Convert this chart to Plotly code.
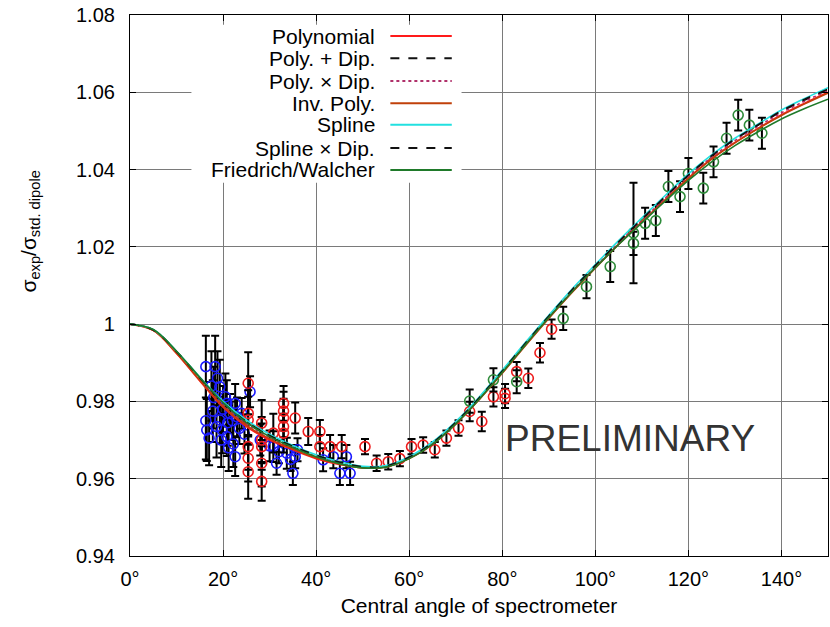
import plotly.graph_objects as go

# ---------------- data ----------------
angles = [0, 5, 10, 15, 20, 25, 30, 35, 40, 45, 50, 55, 60, 65, 70, 75, 80, 85, 90,
          95, 100, 105, 110, 115, 120, 125, 130, 135, 140, 145, 150]

fit_polynomial = [1.0000, 0.9984, 0.9924, 0.9853, 0.9785, 0.9735, 0.9700, 0.9675, 0.9652, 0.9637,
                  0.9628, 0.9631, 0.9653, 0.9690, 0.9742, 0.9805, 0.9874, 0.9946, 1.0016, 1.0083,
                  1.0146, 1.0207, 1.0265, 1.0322, 1.0378, 1.0428, 1.0470, 1.0507, 1.0542, 1.0572, 1.0600]
fit_poly_plus_dip = [1.0000, 0.9985, 0.9928, 0.9860, 0.9795, 0.9745, 0.9710, 0.9683, 0.9660, 0.9642,
                     0.9630, 0.9632, 0.9655, 0.9692, 0.9745, 0.9808, 0.9878, 0.9950, 1.0020, 1.0088,
                     1.0150, 1.0212, 1.0270, 1.0328, 1.0385, 1.0435, 1.0478, 1.0515, 1.0550, 1.0580, 1.0606]
fit_poly_times_dip = [1.0000, 0.9985, 0.9927, 0.9858, 0.9792, 0.9742, 0.9707, 0.9680, 0.9658, 0.9641,
                      0.9630, 0.9632, 0.9654, 0.9691, 0.9744, 0.9807, 0.9877, 0.9949, 1.0019, 1.0086,
                      1.0149, 1.0210, 1.0268, 1.0326, 1.0382, 1.0432, 1.0475, 1.0512, 1.0547, 1.0577, 1.0604]
fit_inv_poly = [1.0000, 0.9984, 0.9925, 0.9855, 0.9788, 0.9738, 0.9703, 0.9677, 0.9654, 0.9638,
                0.9628, 0.9630, 0.9652, 0.9689, 0.9741, 0.9804, 0.9873, 0.9945, 1.0015, 1.0082,
                1.0145, 1.0206, 1.0264, 1.0321, 1.0377, 1.0427, 1.0469, 1.0506, 1.0540, 1.0570, 1.0598]
fit_spline = [1.0000, 0.9986, 0.9930, 0.9863, 0.9800, 0.9752, 0.9715, 0.9686, 0.9662, 0.9644,
              0.9632, 0.9634, 0.9657, 0.9695, 0.9748, 0.9811, 0.9881, 0.9953, 1.0023, 1.0091,
              1.0154, 1.0216, 1.0275, 1.0333, 1.0389, 1.0438, 1.0481, 1.0518, 1.0554, 1.0584, 1.0612]
fit_spline_times_dip = [1.0000, 0.9985, 0.9929, 0.9861, 0.9797, 0.9748, 0.9712, 0.9684, 0.9661, 0.9643,
                        0.9631, 0.9633, 0.9656, 0.9693, 0.9746, 0.9809, 0.9879, 0.9951, 1.0021, 1.0089,
                        1.0152, 1.0213, 1.0272, 1.0330, 1.0386, 1.0436, 1.0479, 1.0516, 1.0552, 1.0582, 1.0608]
fit_friedrich_walcher = [1.0000, 0.9986, 0.9930, 0.9862, 0.9797, 0.9746, 0.9709, 0.9681, 0.9657, 0.9639,
                         0.9628, 0.9630, 0.9652, 0.9689, 0.9742, 0.9805, 0.9875, 0.9947, 1.0017, 1.0084,
                         1.0146, 1.0206, 1.0262, 1.0318, 1.0372, 1.0420, 1.0462, 1.0498, 1.0531, 1.0558, 1.0582]

blue_x = [16.3, 16.3, 16.5, 17.0, 17.5, 18.0, 18.3, 18.8, 19.3, 19.3, 19.8, 20.0, 20.5, 20.8, 20.8,
          21.2, 21.5, 22.0, 22.6, 22.6, 23.5, 24.0, 25.8, 28.0, 30.0, 30.8, 32.0, 33.7, 35.0, 35.5,
          36.0, 41.5, 43.7, 45.1, 46.5, 47.3, 17.8, 18.6, 19.6, 21.0, 22.2, 23.0, 24.6, 31.5, 34.5]
blue_y = [0.9890, 0.9750, 0.9726, 0.9705, 0.9840, 0.9810, 0.9890, 0.9860, 0.9838, 0.9752, 0.9726,
          0.9780, 0.9812, 0.9795, 0.9709, 0.9680, 0.9769, 0.9750, 0.9795, 0.9657, 0.9730, 0.9769,
          0.9825, 0.9700, 0.9685, 0.9683, 0.9670, 0.9666, 0.9614, 0.9657, 0.9675, 0.9649, 0.9657,
          0.9614, 0.9657, 0.9614, 0.9775, 0.9735, 0.9700, 0.9745, 0.9690, 0.9760, 0.9715, 0.9640,
          0.9650]
blue_err = [0.008, 0.010, 0.008, 0.007, 0.009, 0.008, 0.008, 0.007, 0.007, 0.006, 0.006, 0.006,
            0.006, 0.006, 0.005, 0.006, 0.005, 0.005, 0.005, 0.005, 0.004, 0.004, 0.004, 0.004,
            0.004, 0.004, 0.003, 0.004, 0.003, 0.003, 0.003, 0.003, 0.003, 0.003, 0.003, 0.003,
            0.008, 0.008, 0.007, 0.006, 0.006, 0.005, 0.005, 0.003, 0.003]

red_x = [25.4, 25.4, 25.4, 25.4, 25.4, 25.4, 28.3, 28.3, 28.3, 28.3, 28.3, 30.8, 33.0, 33.0, 33.0,
         33.0, 33.0, 35.5, 38.3, 40.8, 40.8, 43.0, 45.5, 50.5, 53.0, 55.5, 58.0, 60.5, 63.0, 65.5,
         68.0, 70.6, 73.0, 75.6, 78.1, 80.6, 80.6, 83.1, 85.6, 88.1, 90.6]
red_y = [0.9847, 0.9769, 0.9752, 0.9683, 0.9653, 0.9618, 0.9744, 0.9700, 0.9683, 0.9640, 0.9593,
         0.9718, 0.9795, 0.9775, 0.9757, 0.9735, 0.9718, 0.9757, 0.9722, 0.9722, 0.9683, 0.9683,
         0.9683, 0.9683, 0.9640, 0.9644, 0.9652, 0.9683, 0.9687, 0.9675, 0.9705, 0.9731, 0.9774,
         0.9748, 0.9812, 0.9820, 0.9808, 0.9877, 0.9860, 0.9926, 0.9987]
red_err = [0.008, 0.006, 0.006, 0.006, 0.006, 0.007, 0.006, 0.006, 0.006, 0.006, 0.005, 0.005,
           0.0045, 0.005, 0.005, 0.005, 0.005, 0.004, 0.0035, 0.003, 0.003, 0.003, 0.003, 0.002,
           0.002, 0.002, 0.002, 0.002, 0.002, 0.002, 0.002, 0.002, 0.0025, 0.0025, 0.0025, 0.0025,
           0.0025, 0.0025, 0.0025, 0.0025, 0.0025]

green_x = [73.0, 78.1, 83.1, 93.1, 98.1, 103.2, 108.2, 108.2, 110.7, 113.0, 115.7, 118.2, 120.0,
           123.2, 125.4, 128.2, 130.7, 133.1, 135.8]
green_y = [0.9801, 0.9856, 0.9851, 1.0015, 1.0097, 1.0149, 1.0236, 1.0209, 1.0261, 1.0268, 1.0356,
           1.0330, 1.0390, 1.0352, 1.0420, 1.0481, 1.0541, 1.0515, 1.0494]
green_err = [0.003, 0.003, 0.003, 0.003, 0.003, 0.004, 0.013, 0.003, 0.004, 0.004, 0.004, 0.004,
             0.004, 0.004, 0.004, 0.004, 0.004, 0.004, 0.004]

x_tick_vals = [0, 20, 40, 60, 80, 100, 120, 140]
x_tick_text = ["0°", "20°", "40°", "60°", "80°", "100°", "120°", "140°"]
y_tick_vals = [0.94, 0.96, 0.98, 1.00, 1.02, 1.04, 1.06, 1.08]
y_tick_text = ["0.94", "0.96", "0.98", "1", "1.02", "1.04", "1.06", "1.08"]

fits = [
    ("Polynomial", fit_polynomial, "#ff1a1a", "solid", 1.6),
    ("Poly. + Dip.", fit_poly_plus_dip, "#111111", "dash", 1.6),
    ("Poly. × Dip.", fit_poly_times_dip, "#b0306a", "dot", 1.6),
    ("Inv. Poly.", fit_inv_poly, "#c0400a", "solid", 1.6),
    ("Spline", fit_spline, "#22e0e0", "solid", 1.6),
    ("Spline × Dip.", fit_spline_times_dip, "#111111", "dash", 1.6),
    ("Friedrich/Walcher", fit_friedrich_walcher, "#1f7a2a", "solid", 1.6),
]

FONT = "Liberation Sans, Arial, sans-serif"

fig = go.Figure()

for xs, ys, es, col in [(blue_x, blue_y, blue_err, "#1a1aff"),
                        (red_x, red_y, red_err, "#ee1c1c"),
                        (green_x, green_y, green_err, "#2e8b3a")]:
    fig.add_trace(go.Scatter(
        x=xs, y=ys, mode="markers",
        marker=dict(symbol="circle-open", size=10, color=col, line=dict(width=1.6, color=col)),
        error_y=dict(type="data", array=es, color="black", thickness=2, width=4),
        showlegend=False, hoverinfo="skip"))

for name, ys, col, dash, w in fits:
    fig.add_trace(go.Scatter(
        x=angles, y=ys, mode="lines", name=name,
        line=dict(color=col, dash=dash, width=w, shape="spline"),
        showlegend=False))

# manual gnuplot-style legend (text right-aligned, sample to the right)
shapes = [dict(type="rect", xref="paper", yref="paper", x0=0.088, x1=0.475, y0=0.690, y1=0.982,
               fillcolor="white", line=dict(width=0), layer="above")]
annotations = []
row_y = [0.961, 0.920, 0.878, 0.837, 0.797, 0.754, 0.7135]
for (name, ys, col, dash, w), yy in zip(fits, row_y):
    annotations.append(dict(text=name, x=0.353, y=yy, xref="paper", yref="paper",
                            xanchor="right", yanchor="middle", showarrow=False, borderpad=0,
                            font=dict(family=FONT, size=21, color="black")))
    shapes.append(dict(type="line", xref="paper", yref="paper", x0=0.373, x1=0.461, y0=yy, y1=yy,
                       line=dict(color=col, dash=dash, width=2), layer="above"))

annotations.append(dict(text="PRELIMINARY", x=0.716, y=0.218, xref="paper", yref="paper",
                        xanchor="center", yanchor="middle", showarrow=False,
                        font=dict(family=FONT, size=37, color="#333333")))
annotations.append(dict(text="σ<sub>exp</sub>/σ<sub>std. dipole</sub>", x=-0.143, y=0.60,
                        xref="paper", yref="paper", textangle=-90, xanchor="center",
                        yanchor="middle", showarrow=False,
                        font=dict(family=FONT, size=21, color="black")))

fig.update_layout(
    width=830, height=627,
    margin=dict(l=130, r=2, t=15, b=71),
    paper_bgcolor="white", plot_bgcolor="white",
    font=dict(family=FONT, size=20, color="black"),
    shapes=shapes, annotations=annotations,
    showlegend=False,
)
fig.update_xaxes(range=[0, 150], tickvals=x_tick_vals, ticktext=x_tick_text,
                 showgrid=True, gridcolor="#7a7a7a", gridwidth=1,
                 showline=True, linecolor="black", linewidth=1.2, mirror="ticks",
                 ticks="inside", ticklen=6, tickcolor="black", ticklabelstandoff=5,
                 zeroline=False, tickfont=dict(family=FONT, size=20),
                 title=dict(text="Central angle of spectrometer", standoff=9,
                            font=dict(family=FONT, size=21)))
fig.update_yaxes(range=[0.94, 1.08], tickvals=y_tick_vals, ticktext=y_tick_text,
                 showgrid=True, gridcolor="#7a7a7a", gridwidth=1,
                 showline=True, linecolor="black", linewidth=1.2, mirror="ticks",
                 ticks="inside", ticklen=6, tickcolor="black", ticklabelstandoff=10,
                 zeroline=False, tickfont=dict(family=FONT, size=20))

fig.write_html("out.html")
